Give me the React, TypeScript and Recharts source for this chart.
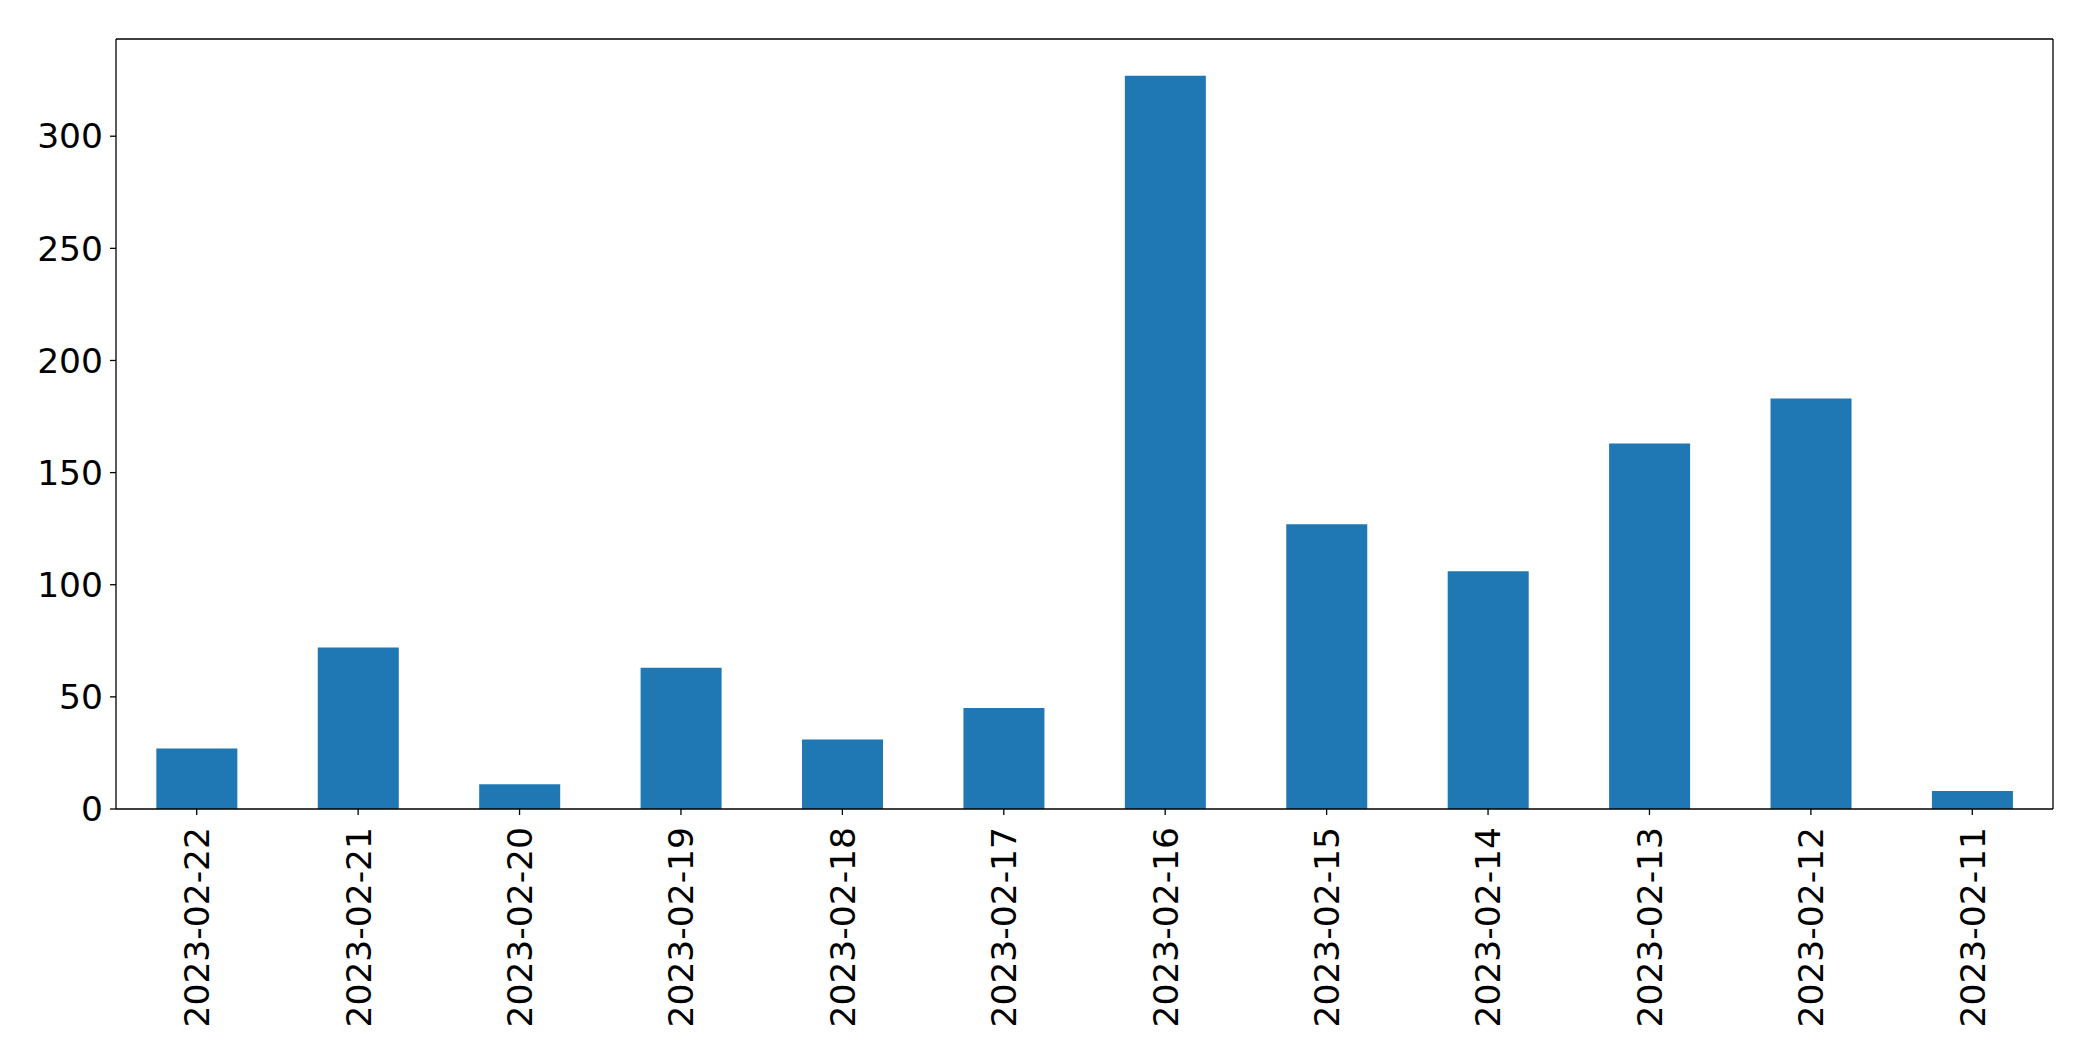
import React from "react";
import { BarChart, Bar, XAxis, YAxis } from "recharts";

const categories = [
  "2023-02-22", "2023-02-21", "2023-02-20", "2023-02-19", "2023-02-18", "2023-02-17",
  "2023-02-16", "2023-02-15", "2023-02-14", "2023-02-13", "2023-02-12", "2023-02-11",
];
const counts = [27, 72, 11, 63, 31, 45, 327, 127, 106, 163, 183, 8];
const yTicks = [0, 50, 100, 150, 200, 250, 300];

const data = categories.map((c, i) => ({ date: c, count: counts[i] }));

const FONT = "'DejaVu Sans', sans-serif";
const FS = 34.5;

const XTick = (props: any) => {
  const { x, y, payload } = props;
  const ay = y + 10;
  return (
    <text
      x={x}
      y={ay}
      transform={`rotate(-90, ${x}, ${ay})`}
      textAnchor="end"
      dy="0.36em"
      fill="#000"
      fontFamily={FONT}
      fontSize={FS}
    >
      {payload.value}
    </text>
  );
};

export default function App() {
  return (
    <div style={{ position: "absolute", left: 0, top: 0, background: "#fff" }}>
      <BarChart
        width={2093}
        height={1061}
        data={data}
        margin={{ top: 38, right: 39, bottom: 0, left: 0 }}
        barCategoryGap="25%"
      >
        <XAxis
          dataKey="date"
          height={252}
          interval={0}
          tick={<XTick />}
          tickSize={6}
          tickLine={{ stroke: "#000", strokeWidth: 1.3 }}
          axisLine={{ stroke: "#000", strokeWidth: 1.3 }}
        />
        <XAxis
          xAxisId="top"
          dataKey="date"
          orientation="top"
          height={1}
          tick={false}
          tickLine={false}
          axisLine={{ stroke: "#000", strokeWidth: 1.3 }}
        />
        <YAxis
          width={116}
          domain={[0, 343.35]}
          ticks={yTicks}
          allowDataOverflow
          tickSize={6}
          tickMargin={7}
          tick={{ fill: "#000", fontFamily: FONT, fontSize: FS }}
          tickLine={{ stroke: "#000", strokeWidth: 1.3 }}
          axisLine={{ stroke: "#000", strokeWidth: 1.3 }}
        />
        <YAxis
          yAxisId="right"
          orientation="right"
          width={1}
          domain={[0, 343.35]}
          tick={false}
          tickLine={false}
          axisLine={{ stroke: "#000", strokeWidth: 1.3 }}
        />
        <Bar dataKey="count" fill="#1f77b4" isAnimationActive={false} />
      </BarChart>
    </div>
  );
}
